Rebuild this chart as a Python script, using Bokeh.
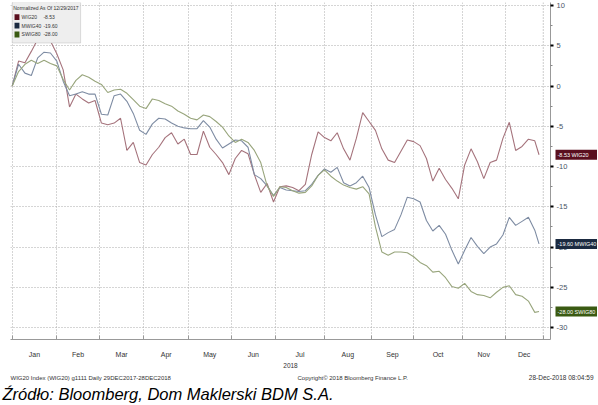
import math
from bokeh.plotting import figure
from bokeh.layouts import column, row
from bokeh.models import Range1d, FixedTicker, Label, Span, BoxAnnotation, CustomJSTickFormatter
from bokeh.core.properties import value
from bokeh.embed import file_html
from bokeh.resources import INLINE

# trading-session index of each sample (0 = 29 Dec 2017, 248 = 28 Dec 2018)
sessions = list(range(0, 247, 3)) + [248]

wig20 = [0, 3.1, 2.9, 4.3, 5.8, 6.4, 5.6, 4.0, 2.0, -2.6, -1.0, -1.6, -2.1, -1.8,
         -4.6, -4.8, -4.6, -4.0, -8.0, -7.0, -9.5, -9.8, -8.5, -7.6, -6.4, -5.8,
         -7.2, -6.6, -8.5, -8.5, -5.6, -7.6, -8.5, -9.5, -11.0, -9.0, -8.0, -8.4,
         -11.0, -13.2, -12.1, -14.4, -12.5, -12.4, -12.6, -13.0, -12.2, -8.5, -5.7,
         -6.4, -6.8, -5.8, -7.8, -9.2, -6.5, -3.3, -4.4, -5.5, -7.8, -9.2, -9.5,
         -8.1, -6.7, -6.9, -7.4, -9.0, -11.8, -10.2, -11.6, -12.7, -14.0, -9.8,
         -7.8, -9.4, -11.5, -9.5, -9.2, -6.5, -4.5, -8.0, -7.5, -6.6, -6.8, -8.53]

mwig40 = [0, 2.7, 1.6, 1.3, 3.5, 4.2, 4.1, 3.1, 0.6, -1.2, -1.0, -0.7, -1.0, -1.0,
          -3.5, -3.6, -1.2, -1.0, -1.9, -3.4, -5.5, -6.0, -4.7, -4.0, -4.1, -4.6,
          -5.0, -5.2, -5.3, -5.3, -4.3, -5.1, -6.6, -7.7, -7.2, -6.7, -6.8, -7.6,
          -11.0, -11.5, -12.4, -13.6, -12.6, -12.9, -13.0, -13.1, -13.0, -12.2,
          -11.1, -10.3, -10.7, -10.1, -12.0, -12.4, -12.0, -11.2, -12.6, -16.0,
          -18.7, -18.2, -17.8, -16.0, -13.8, -14.0, -14.4, -16.7, -18.0, -17.3,
          -18.4, -20.4, -22.1, -20.4, -18.8, -19.9, -20.8, -20.0, -19.6, -18.5,
          -16.3, -17.3, -16.8, -16.3, -17.9, -19.60]

swig80 = [0, 1.8, 2.7, 3.2, 2.8, 3.2, 2.8, 2.5, 0.8, -0.5, 0.7, 1.4, 1.1, 0.6,
          0.2, -0.8, -0.5, -0.4, -0.9, -1.7, -2.5, -2.8, -1.6, -1.8, -2.2, -2.5,
          -3.1, -3.5, -4.0, -4.2, -3.6, -3.8, -4.4, -5.1, -6.2, -7.0, -6.6, -7.0,
          -8.0, -9.5, -12.4, -13.7, -12.5, -12.6, -13.0, -13.3, -13.2, -12.4,
          -11.1, -10.4, -11.2, -11.8, -12.3, -12.6, -12.8, -12.5, -13.4, -17.5,
          -20.6, -21.0, -20.6, -20.6, -20.7, -21.2, -21.9, -22.3, -23.1, -23.0,
          -23.8, -24.9, -25.1, -24.5, -25.5, -25.9, -26.0, -26.3, -25.6, -25.0,
          -24.8, -25.9, -26.1, -26.7, -28.1, -28.00]

series_names = ["WIG20", "MWIG40", "SWIG80"]
last_values = [-8.53, -19.60, -28.00]

month_labels = ["Jan", "Feb", "Mar", "Apr", "May", "Jun",
                "Jul", "Aug", "Sep", "Oct", "Nov", "Dec"]
month_starts = [0, 21, 41, 62, 83, 103, 124, 147, 169, 189, 212, 232]
end_session = 250
y_ticks = [10, 5, 0, -5, -10, -15, -20, -25, -30]

legend_title = "Normalized As Of 12/29/2017"
footer_left = "WIG20 Index (WIG20) g1111  Daily 29DEC2017-28DEC2018"
footer_mid = "Copyright\u00a9 2018 Bloomberg Finance L.P."
footer_right = "28-Dec-2018 08:04:59"
caption = "Źródło: Bloomberg, Dom Maklerski BDM S.A."

line_colors = ["#a5737c", "#7e8ca3", "#98a57c"]
tag_colors = ["#5a0f1f", "#1b2a40", "#3a5a12"]

FONT = "Liberation Sans"
TXT = "#333333"

yr = Range1d(-31.47, 10.37)

# ---------------- main chart ----------------
p = figure(width=554, height=360, output_backend="svg", toolbar_location=None,
           x_range=Range1d(-0.8, 253.4), y_range=yr, y_axis_location="right",
           min_border_left=10, min_border_right=4, min_border_top=2, min_border_bottom=17)
p.outline_line_color = None

bounds = month_starts + [end_session]
mids = [(bounds[i] + bounds[i + 1]) / 2 for i in range(12)]
xax = p.xaxis[0]
xax.ticker = FixedTicker(ticks=mids, minor_ticks=bounds)
xax.major_label_overrides = {m: lab for m, lab in zip(mids, month_labels)}
xax.major_tick_line_color = None
xax.minor_tick_in = 4
xax.minor_tick_out = 0
xax.minor_tick_line_color = "#999999"
xax.axis_line_color = "#999999"
xax.major_label_text_font_size = "7px"
xax.major_label_text_font = FONT
xax.major_label_text_color = TXT
xax.major_label_standoff = 5

yax = p.yaxis[0]
yax.ticker = FixedTicker(ticks=y_ticks, minor_ticks=[v - 2.5 for v in y_ticks[:-1]])
yax.formatter = CustomJSTickFormatter(code="return ''")
yax.axis_line_color = "#999999"
yax.major_tick_line_color = "black"
yax.major_tick_line_width = 2
yax.major_tick_in = 0
yax.major_tick_out = 3
yax.minor_tick_in = 0
yax.minor_tick_out = 2
yax.minor_tick_line_color = "#888888"
yax.major_label_standoff = 0

p.xgrid.ticker = FixedTicker(ticks=month_starts)
p.ygrid.ticker = FixedTicker(ticks=y_ticks)
for g in (p.xgrid, p.ygrid):
    g.grid_line_color = "#aaaaaa"
    g.grid_line_dash = "1 2"
    g.grid_line_width = 1

p.add_layout(Span(location=end_session, dimension="height", line_color="#999999",
                  line_dash="1 2", line_width=1))

for vals, col in zip([wig20, mwig40, swig80], line_colors):
    p.line(sessions, vals, line_color=col, line_width=1.1)

# legend box (Bloomberg style)
p.add_layout(BoxAnnotation(left=0, right=32.2, top=10.37, bottom=5.34,
                           fill_color="#eeeeee", fill_alpha=1,
                           line_color="#999999", line_width=1, level="annotation"))
p.add_layout(Label(x=0.5, y=9.72, text=legend_title, text_font=FONT,
                   text_font_size="5px", text_color=TXT, text_baseline="middle"))
for i, (name, lv, col) in enumerate(zip(series_names, last_values, tag_colors)):
    yy = [8.56, 7.51, 6.40][i]
    p.add_layout(BoxAnnotation(left=1.1, right=3.4, top=yy + 0.36, bottom=yy - 0.36,
                               fill_color=col, fill_alpha=1, line_color=None))
    p.add_layout(Label(x=4.4, y=yy, text=name, text_font=FONT, text_font_size="5px",
                       text_color=TXT, text_baseline="middle"))
    p.add_layout(Label(x=14.7, y=yy, text=f"{lv:.2f}", text_font=FONT, text_font_size="5px",
                       text_color=TXT, text_baseline="middle"))

# ---------------- right strip: tick labels and value tags ----------------
p2 = figure(width=43, height=360, output_backend="svg", toolbar_location=None,
            x_range=Range1d(0, 43), y_range=yr, x_axis_type=None, y_axis_type=None,
            min_border_left=0, min_border_right=0, min_border_top=2, min_border_bottom=17)
p2.outline_line_color = None
p2.grid.visible = False
p2.text(x=[2] * len(y_ticks), y=y_ticks, text=[str(v) for v in y_ticks],
        text_font=value(FONT), text_font_size="7.5px", text_color="#4a5566",
        text_baseline="middle", text_align="left")
p2.rect(x=[22] * 3, y=last_values, width=42, height=10, width_units="screen",
        height_units="screen", fill_color=tag_colors, line_color=None)
p2.text(x=[3] * 3, y=last_values, text=[f"{lv:.2f} {n}" for lv, n in zip(last_values, series_names)],
        text_font=value(FONT), text_font_size="5.5px", text_color="white",
        text_baseline="middle", text_align="left")

# ---------------- footer ----------------
p3 = figure(width=597, height=43, output_backend="svg", toolbar_location=None,
            x_range=Range1d(0, 597), y_range=Range1d(0, 43), x_axis_type=None, y_axis_type=None,
            min_border=0)
p3.outline_line_color = None
p3.grid.visible = False
p3.text(x=[290], y=[38], text=["2018"], text_font=value(FONT), text_font_size="6.5px",
        text_color=TXT, text_baseline="middle", text_align="center")
p3.text(x=[10, 297], y=[26, 26], text=[footer_left, footer_mid], text_font=value(FONT),
        text_font_size="6px", text_color=TXT, text_baseline="middle", text_align="left")
p3.text(x=[593], y=[26], text=[footer_right], text_font=value(FONT),
        text_font_size="6.5px", text_color=TXT, text_baseline="middle", text_align="right")
p3.text(x=[2], y=[10], text=[caption], text_font=value(FONT),
        text_font_style="italic", text_font_size="16.5px", text_color="black",
        text_baseline="middle", text_align="left")

layout = column(row(p, p2, spacing=0), p3, spacing=0)
open("out.html", "w").write(file_html(layout, INLINE))
